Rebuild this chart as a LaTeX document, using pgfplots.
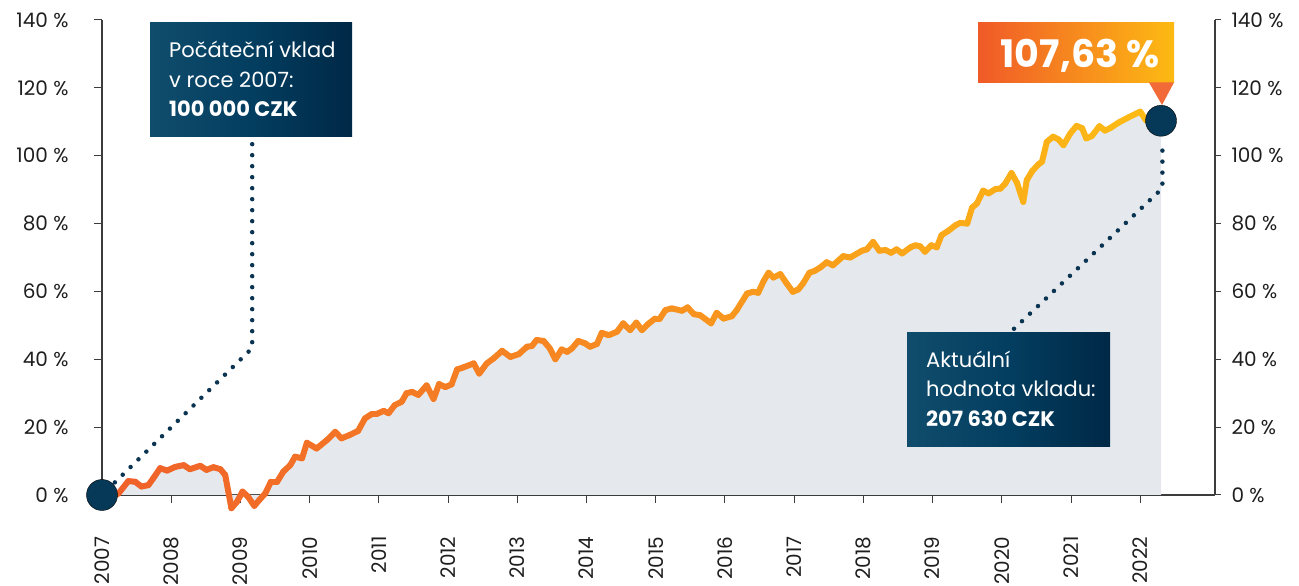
\documentclass[border=0pt]{standalone}
\usepackage{pgfplots}
\usepackage{pgfplotstable}
\pgfplotsset{compat=1.18}
\usepackage{fontspec}
\setmainfont{Poppins}
\definecolor{navyL}{RGB}{16,76,108}
\definecolor{navyM}{RGB}{3,62,96}
\definecolor{navyR}{RGB}{0,40,70}
\definecolor{dotc}{RGB}{10,52,82}
\definecolor{circ}{RGB}{6,56,88}
\definecolor{fillg}{RGB}{229,233,237}
\definecolor{orA}{RGB}{240,90,40}
\definecolor{orB}{RGB}{253,186,19}
\definecolor{tri}{RGB}{242,106,55}
\definecolor{axc}{RGB}{60,60,60}
\definecolor{lbl}{RGB}{30,30,30}

\pgfplotstableread{
x y
2007.00 0.0
2007.20 0.0
2007.24 0.5
2007.38 4.1
2007.48 3.9
2007.57 2.5
2007.67 2.9
2007.74 4.9
2007.84 7.9
2007.94 7.2
2008.06 8.3
2008.18 8.8
2008.27 7.6
2008.42 8.6
2008.51 7.4
2008.61 8.2
2008.71 7.6
2008.78 5.9
2008.87 -3.9
2008.95 -2.0
2009.03 1.0
2009.11 -0.5
2009.20 -3.2
2009.28 -1.3
2009.36 0.5
2009.44 3.9
2009.53 3.9
2009.62 6.9
2009.72 8.8
2009.79 11.3
2009.89 10.8
2009.96 15.4
2010.10 13.7
2010.25 16.2
2010.37 18.6
2010.46 16.7
2010.58 17.7
2010.70 18.9
2010.80 22.6
2010.90 23.9
2010.97 23.9
2011.07 24.8
2011.14 24.1
2011.23 26.5
2011.33 27.5
2011.40 30.0
2011.48 30.4
2011.57 29.5
2011.69 32.3
2011.79 28.3
2011.87 32.7
2011.96 31.8
2012.05 32.6
2012.13 37.0
2012.22 37.6
2012.37 38.8
2012.45 35.8
2012.56 38.8
2012.66 40.3
2012.78 42.5
2012.90 40.7
2013.02 41.5
2013.14 43.7
2013.21 43.9
2013.28 45.7
2013.38 45.4
2013.47 43.2
2013.55 40.0
2013.64 42.9
2013.72 42.2
2013.79 43.2
2013.88 45.4
2013.98 44.7
2014.05 43.7
2014.15 44.5
2014.22 47.8
2014.32 47.1
2014.44 48.1
2014.53 50.6
2014.63 48.6
2014.72 50.8
2014.80 48.6
2014.89 50.4
2014.99 52.0
2015.06 52.0
2015.14 54.5
2015.23 55.0
2015.38 54.3
2015.46 55.3
2015.55 53.3
2015.64 53.0
2015.80 50.6
2015.88 53.7
2015.98 52.0
2016.10 52.7
2016.17 54.5
2016.32 59.4
2016.41 59.9
2016.48 59.6
2016.56 63.1
2016.63 65.5
2016.70 64.1
2016.80 65.1
2016.89 62.4
2016.98 59.9
2017.06 60.6
2017.13 62.4
2017.22 65.5
2017.30 66.1
2017.38 67.1
2017.47 68.6
2017.56 67.7
2017.71 70.4
2017.81 70.0
2017.98 72.0
2018.05 72.4
2018.14 74.6
2018.23 72.0
2018.32 72.2
2018.40 71.4
2018.48 72.4
2018.56 71.2
2018.68 73.0
2018.75 73.6
2018.82 73.3
2018.89 71.7
2018.98 73.6
2019.06 73.0
2019.13 76.6
2019.23 77.9
2019.33 79.5
2019.40 80.2
2019.50 80.0
2019.57 84.7
2019.64 85.9
2019.73 89.7
2019.81 88.9
2019.91 90.2
2019.98 90.3
2020.05 91.8
2020.14 94.9
2020.22 92.0
2020.31 86.4
2020.36 92.8
2020.44 95.5
2020.53 97.5
2020.58 98.2
2020.65 104.1
2020.74 105.6
2020.82 104.8
2020.89 103.1
2020.99 106.6
2021.08 108.8
2021.16 108.1
2021.22 105.1
2021.30 105.8
2021.41 108.7
2021.49 107.4
2021.57 108.2
2021.69 109.8
2021.83 111.3
2022.00 113.0
2022.08 110.5
2022.17 109.7
2022.30 110.4
}\datatable

\pgfplotstableread{
x y
2007.20 0.0
2007.24 0.5
2007.38 4.1
2007.48 3.9
2007.57 2.5
2007.67 2.9
2007.74 4.9
2007.84 7.9
2007.94 7.2
2008.06 8.3
2008.18 8.8
2008.27 7.6
2008.42 8.6
2008.51 7.4
2008.61 8.2
2008.71 7.6
2008.78 5.9
2008.87 -3.9
2008.95 -2.0
2009.03 1.0
2009.11 -0.5
2009.20 -3.2
2009.28 -1.3
2009.36 0.5
2009.44 3.9
2009.53 3.9
2009.62 6.9
2009.72 8.8
2009.79 11.3
2009.89 10.8
2009.96 15.4
2010.10 13.7
2010.25 16.2
2010.37 18.6
2010.46 16.7
2010.58 17.7
2010.70 18.9
2010.80 22.6
2010.90 23.9
2010.97 23.9
2011.07 24.8
2011.14 24.1
2011.23 26.5
2011.33 27.5
2011.40 30.0
2011.48 30.4
2011.57 29.5
2011.69 32.3
2011.79 28.3
2011.87 32.7
2011.96 31.8
2012.05 32.6
2012.13 37.0
2012.22 37.6
2012.37 38.8
2012.45 35.8
2012.56 38.8
2012.66 40.3
2012.78 42.5
2012.90 40.7
2013.02 41.5
2013.14 43.7
2013.21 43.9
2013.28 45.7
2013.38 45.4
2013.47 43.2
2013.55 40.0
2013.64 42.9
2013.72 42.2
2013.79 43.2
2013.88 45.4
2013.98 44.7
2014.05 43.7
2014.15 44.5
2014.22 47.8
2014.32 47.1
2014.44 48.1
2014.53 50.6
2014.63 48.6
2014.72 50.8
2014.80 48.6
2014.89 50.4
2014.99 52.0
2015.06 52.0
2015.14 54.5
2015.23 55.0
2015.38 54.3
2015.46 55.3
2015.55 53.3
2015.64 53.0
2015.80 50.6
2015.88 53.7
2015.98 52.0
2016.10 52.7
2016.17 54.5
2016.32 59.4
2016.41 59.9
2016.48 59.6
2016.56 63.1
2016.63 65.5
2016.70 64.1
2016.80 65.1
2016.89 62.4
2016.98 59.9
2017.06 60.6
2017.13 62.4
2017.22 65.5
2017.30 66.1
2017.38 67.1
2017.47 68.6
2017.56 67.7
2017.71 70.4
2017.81 70.0
2017.98 72.0
2018.05 72.4
2018.14 74.6
2018.23 72.0
2018.32 72.2
2018.40 71.4
2018.48 72.4
2018.56 71.2
2018.68 73.0
2018.75 73.6
2018.82 73.3
2018.89 71.7
2018.98 73.6
2019.06 73.0
2019.13 76.6
2019.23 77.9
2019.33 79.5
2019.40 80.2
2019.50 80.0
2019.57 84.7
2019.64 85.9
2019.73 89.7
2019.81 88.9
2019.91 90.2
2019.98 90.3
2020.05 91.8
2020.14 94.9
2020.22 92.0
2020.31 86.4
2020.36 92.8
2020.44 95.5
2020.53 97.5
2020.58 98.2
2020.65 104.1
2020.74 105.6
2020.82 104.8
2020.89 103.1
2020.99 106.6
2021.08 108.8
2021.16 108.1
2021.22 105.1
2021.30 105.8
2021.41 108.7
2021.49 107.4
2021.57 108.2
2021.69 109.8
2021.83 111.3
2022.00 113.0
2022.08 110.5
2022.17 109.7
2022.30 110.4
}\linetable

\pgfplotstableread{
x y
2007.00 0.0
}\starttable

\pgfplotstableread{
x y
2022.30 110.3
}\endtable

\begin{document}
\begin{tikzpicture}
\begin{axis}[
  at={(102bp,91bp)}, anchor=south west,
  scale only axis, width=1113bp, height=475bp,
  xmin=2007, xmax=2023.08, ymin=0, ymax=140,
  clip=false,
  axis x line*=bottom, axis y line*=left,
  axis line style={axc, line width=1.1bp, -},
  tick style={axc, line width=1bp},
  tick align=outside,
  major tick length=8bp,
  xtick={2007,2008,2009,2010,2011,2012,2013,2014,2015,2016,2017,2018,2019,2020,2021,2022},
  xticklabels={2007,2008,2009,2010,2011,2012,2013,2014,2015,2016,2017,2018,2019,2020,2021,2022},
  xticklabel style={font=\fontsize{20bp}{24bp}\selectfont, text=lbl, rotate=90, anchor=east},
  xticklabel shift=30bp,
  ytick={0,20,40,60,80,100,120,140},
  yticklabels={0 \%,20 \%,40 \%,60 \%,80 \%,100 \%,120 \%,140 \%},
  yticklabel style={font=\fontsize{20bp}{24bp}\selectfont, text=lbl, anchor=east},
  yticklabel shift=22bp,
]
\addplot[fill=fillg, draw=none] table[x=x,y=y]{\datatable} \closedcycle;
\addplot[only marks, mark=*, mark size=15.5bp, mark options={fill=circ, draw=none}] table[x=x,y=y]{\endtable};
\addplot[mesh, point meta=x, point meta min=2007.2, point meta max=2022.3,
  colormap={og}{rgb255=(240,96,42) rgb255=(247,142,32) rgb255=(253,188,20)},
  line width=6bp, line cap=round, line join=round] table[x=x,y=y]{\linetable};
\addplot[only marks, mark=*, mark size=15.5bp, mark options={fill=circ, draw=none}] table[x=x,y=y]{\starttable};
\draw[dotc, line width=4.5bp, line cap=round, dash pattern=on 0bp off 11bp]
  (axis cs:2009.17,103.4) -- (axis cs:2009.17,43.3) -- (axis cs:2007.16,3.2);
\draw[dotc, line width=4.5bp, line cap=round, dash pattern=on 0bp off 11bp]
  (axis cs:2022.32,101.5) -- (axis cs:2022.32,90.4) -- (axis cs:2020.14,48.3);
\end{axis}
\begin{axis}[
  at={(102bp,91bp)}, anchor=south west,
  scale only axis, width=1113bp, height=475bp,
  xmin=2007, xmax=2023.08, ymin=0, ymax=140,
  axis x line=none, axis y line*=right,
  axis line style={axc, line width=1.1bp, -},
  tick style={axc, line width=1bp},
  tick align=outside,
  major tick length=6bp,
  ytick={0,20,40,60,80,100,120,140},
  yticklabels={0 \%,20 \%,40 \%,60 \%,80 \%,100 \%,120 \%,140 \%},
  yticklabel style={font=\fontsize{20bp}{24bp}\selectfont, text=lbl, anchor=west},
  yticklabel shift=7bp,
]
\end{axis}
% callout 1
\shade[left color=navyL, right color=navyR, middle color=navyM] (150bp,449bp) rectangle (352bp,563bp);
\node[anchor=base west, inner sep=0pt, text=white, font=\fontsize{21bp}{25bp}\selectfont] at (169bp,528bp) {Počáteční vklad};
\node[anchor=base west, inner sep=0pt, text=white, font=\fontsize{21bp}{25bp}\selectfont] at (169bp,498bp) {v roce 2007:};
\node[anchor=base west, inner sep=0pt, text=white, font=\fontsize{21bp}{25bp}\selectfont\bfseries] at (169bp,469bp) {100 000 CZK};
% callout 2
\shade[left color=navyL, right color=navyR, middle color=navyM] (907bp,139bp) rectangle (1110bp,253bp);
\node[anchor=base west, inner sep=0pt, text=white, font=\fontsize{21bp}{25bp}\selectfont] at (926bp,218bp) {Aktuální};
\node[anchor=base west, inner sep=0pt, text=white, font=\fontsize{21bp}{25bp}\selectfont] at (926bp,189bp) {hodnota vkladu:};
\node[anchor=base west, inner sep=0pt, text=white, font=\fontsize{21bp}{25bp}\selectfont\bfseries] at (926bp,159bp) {207 630 CZK};
% value badge
\shade[left color=orA, right color=orB] (978bp,503bp) rectangle (1174bp,563bp);
\fill[tri] (1149bp,503.5bp) -- (1174bp,503.5bp) -- (1162bp,481bp) -- cycle;
\node[anchor=base, inner sep=0pt, text=white, font=\fontsize{38bp}{40bp}\selectfont\bfseries] at (1080bp,518bp) {107,63 \%};
\pgfresetboundingbox
\useasboundingbox (0,0) rectangle (1299bp,586bp);
\end{tikzpicture}
\end{document}
